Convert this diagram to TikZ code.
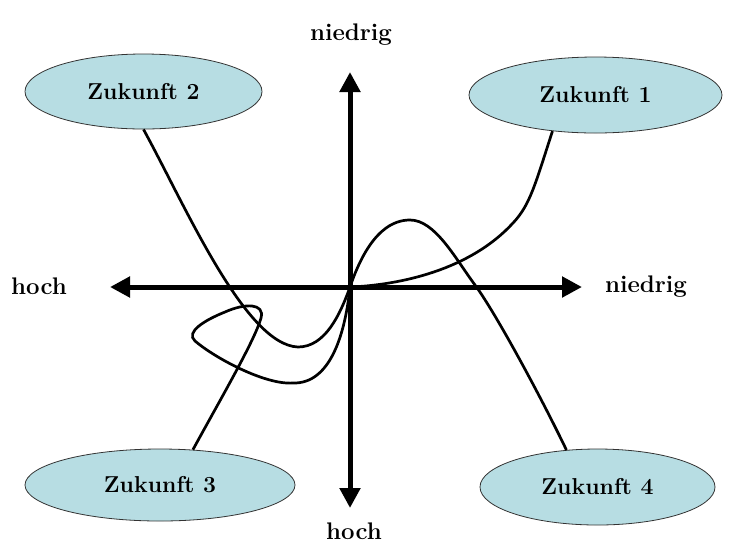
\documentclass[tikz,border=0pt]{standalone}
\usepackage{fontspec}
\usetikzlibrary{shapes.geometric,arrows.meta}
\definecolor{ellfill}{RGB}{183,221,227}
\begin{document}
\begin{tikzpicture}[x=1pt,y=-1pt,
  fut/.style={ellipse,draw=black!80,line width=0.8pt,fill=ellfill,inner sep=0pt,
    font=\fontsize{23}{27}\selectfont\bfseries},
  axisline/.style={line width=5pt,{Triangle[length=20pt,width=20pt]}-{Triangle[length=20pt,width=20pt]}},
  lbl/.style={font=\fontsize{24}{28}\selectfont\bfseries},
  traj/.style={line width=2.7pt}]
\useasboundingbox (0,0) rectangle (746,550);

% axes
\coordinate (O) at (350,287);
\coordinate (L) at (110,287);
\coordinate (R) at (582,287);
\coordinate (T) at (350,72);
\coordinate (B) at (350,508);
\draw[axisline] (L) -- (R);
\draw[axisline] (T) -- (B);

% axis labels
\node[lbl] (nt) at (351,35) {niedrig};
\node[lbl] (hl) at (39,286) {hoch};
\node[lbl] (nr) at (646,287) {niedrig};
\node[lbl] (hb) at (354,531) {hoch};

% scenarios
\node[fut,minimum width=237pt,minimum height=75pt] (z2) at (143.5,91.5) {Zukunft 2};
\node[fut,minimum width=253pt,minimum height=76pt] (z1) at (595.5,95) {Zukunft 1};
\node[fut,minimum width=270pt,minimum height=72pt] (z3) at (160,485) {Zukunft 3};
\node[fut,minimum width=235pt,minimum height=76pt] (z4) at (597.5,487) {Zukunft 4};

% trajectories
\draw[traj] (z2.south) .. controls (185,205) and (245,345) .. (298,347)
  .. controls (325,347) and (340,315) .. (O);
\draw[traj] (z1.220) .. controls (535,185) and (530,205) .. (513,223)
  .. controls (470,270) and (400,285) .. (O);
\draw[traj] (O) .. controls (370,228) and (395,220) .. (410,220)
  .. controls (435,220) and (455,258) .. (475,285)
  .. controls (495,312) and (540,395) .. (z4.130);
\draw[traj] (z3.47) .. controls (220,400) and (255,340) .. (261,318)
  .. controls (265,303) and (245,303) .. (225,312)
  .. controls (205,320) and (185,332) .. (195,341)
  .. controls (215,358) and (265,385) .. (293,383)
  .. controls (330,384) and (345,335) .. (O);
\end{tikzpicture}
\end{document}
